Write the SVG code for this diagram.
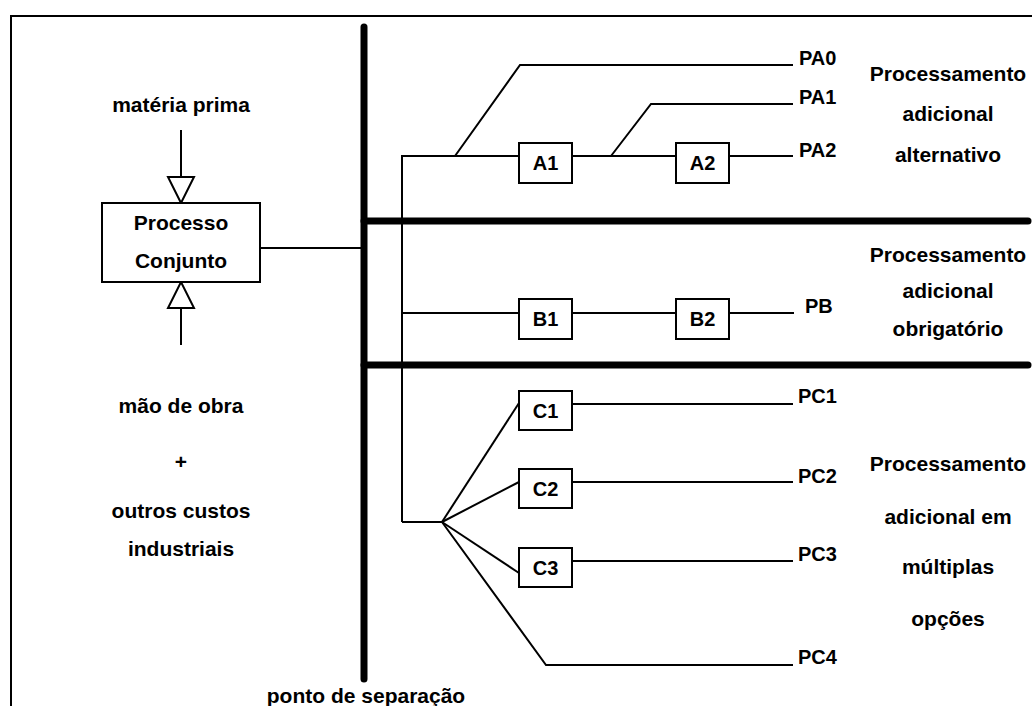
<svg xmlns="http://www.w3.org/2000/svg" width="1032" height="706" viewBox="0 0 1032 706">
<style>
text{font-family:"Liberation Sans",Arial,sans-serif;font-weight:bold;fill:#000;text-anchor:middle}
.t{font-size:21px}
.l{font-size:20px}
.pl{font-size:20px;text-anchor:start}
.ln{stroke:#000;stroke-width:2;fill:none}
.thick{stroke:#000;stroke-width:7;stroke-linecap:round;fill:none}
.box{fill:#fff;stroke:#000;stroke-width:2}
.tri{fill:#fff;stroke:#000;stroke-width:2;stroke-linejoin:miter}
</style>
<rect width="1032" height="706" fill="#fff"/>
<g id="frame">
<line class="ln" x1="10" y1="16" x2="1032" y2="16"/>
<line class="ln" x1="11" y1="15" x2="11" y2="706"/>
</g>
<g id="separators">
<line class="thick" x1="364" y1="27" x2="364" y2="679"/>
<line class="thick" x1="364" y1="221" x2="1028" y2="221"/>
<line class="thick" x1="364" y1="365" x2="1028" y2="365"/>
</g>
<g id="connectors">
<line class="ln" x1="181" y1="130" x2="181" y2="177"/>
<line class="ln" x1="181" y1="308" x2="181" y2="345"/>
<line class="ln" x1="260" y1="248" x2="364" y2="248"/>
<polyline class="ln" points="402,522 402,156 519,156"/>
<polyline class="ln" points="455,156 520,65 793,65"/>
<line class="ln" x1="572" y1="156" x2="676" y2="156"/>
<polyline class="ln" points="611,156 651,104 793,104"/>
<line class="ln" x1="729" y1="156" x2="793" y2="156"/>
<line class="ln" x1="402" y1="313" x2="519" y2="313"/>
<line class="ln" x1="572" y1="313" x2="676" y2="313"/>
<line class="ln" x1="729" y1="313" x2="794" y2="313"/>
<line class="ln" x1="402" y1="522" x2="442" y2="522"/>
<line class="ln" x1="442" y1="522" x2="519" y2="403"/>
<line class="ln" x1="442" y1="522" x2="519" y2="482"/>
<line class="ln" x1="442" y1="522" x2="519" y2="573"/>
<polyline class="ln" points="442,522 546,665 793,665"/>
<line class="ln" x1="572" y1="404" x2="793" y2="404"/>
<line class="ln" x1="572" y1="482" x2="793" y2="482"/>
<line class="ln" x1="572" y1="561" x2="793" y2="561"/>
<polygon class="tri" points="168,177 194,177 181,203"/>
<polygon class="tri" points="168,308 194,308 181,282"/>
</g>
<g id="processo-conjunto">
<rect class="box" x="102" y="203" width="158" height="79"/>
<text class="t" x="181" y="230">Processo</text>
<text class="t" x="181" y="268">Conjunto</text>
</g>
<g id="inputs">
<text class="t" x="181" y="112">matéria prima</text>
<text class="t" x="181" y="413">mão de obra</text>
<text class="t" x="181" y="469">+</text>
<text class="t" x="181" y="518">outros custos</text>
<text class="t" x="181" y="556">industriais</text>
<text class="t" x="366" y="703">ponto de separação</text>
</g>
<g id="A1"><rect class="box" x="519" y="143" width="53" height="40"/><text class="l" x="545.5" y="170">A1</text></g>
<g id="A2"><rect class="box" x="676" y="143" width="53" height="40"/><text class="l" x="702.5" y="170">A2</text></g>
<g id="B1"><rect class="box" x="519" y="299" width="53" height="40"/><text class="l" x="545.5" y="326">B1</text></g>
<g id="B2"><rect class="box" x="676" y="299" width="53" height="40"/><text class="l" x="702.5" y="326">B2</text></g>
<g id="C1"><rect class="box" x="519" y="391" width="53" height="39"/><text class="l" x="545.5" y="418">C1</text></g>
<g id="C2"><rect class="box" x="519" y="469" width="53" height="39"/><text class="l" x="545.5" y="496">C2</text></g>
<g id="C3"><rect class="box" x="519" y="548" width="53" height="39"/><text class="l" x="545.5" y="575">C3</text></g>
<g id="outputs">
<text class="pl" x="799" y="65">PA0</text>
<text class="pl" x="799" y="104">PA1</text>
<text class="pl" x="799" y="157">PA2</text>
<text class="pl" x="805" y="313">PB</text>
<text class="pl" x="798" y="403">PC1</text>
<text class="pl" x="798" y="483">PC2</text>
<text class="pl" x="798" y="561">PC3</text>
<text class="pl" x="798" y="664">PC4</text>
</g>
<g id="section-labels">
<text class="t" x="948" y="81">Processamento</text>
<text class="t" x="948" y="121">adicional</text>
<text class="t" x="948" y="162">alternativo</text>
<text class="t" x="948" y="262">Processamento</text>
<text class="t" x="948" y="298">adicional</text>
<text class="t" x="948" y="336">obrigatório</text>
<text class="t" x="948" y="471">Processamento</text>
<text class="t" x="948" y="524">adicional em</text>
<text class="t" x="948" y="574">múltiplas</text>
<text class="t" x="948" y="626">opções</text>
</g>
</svg>
